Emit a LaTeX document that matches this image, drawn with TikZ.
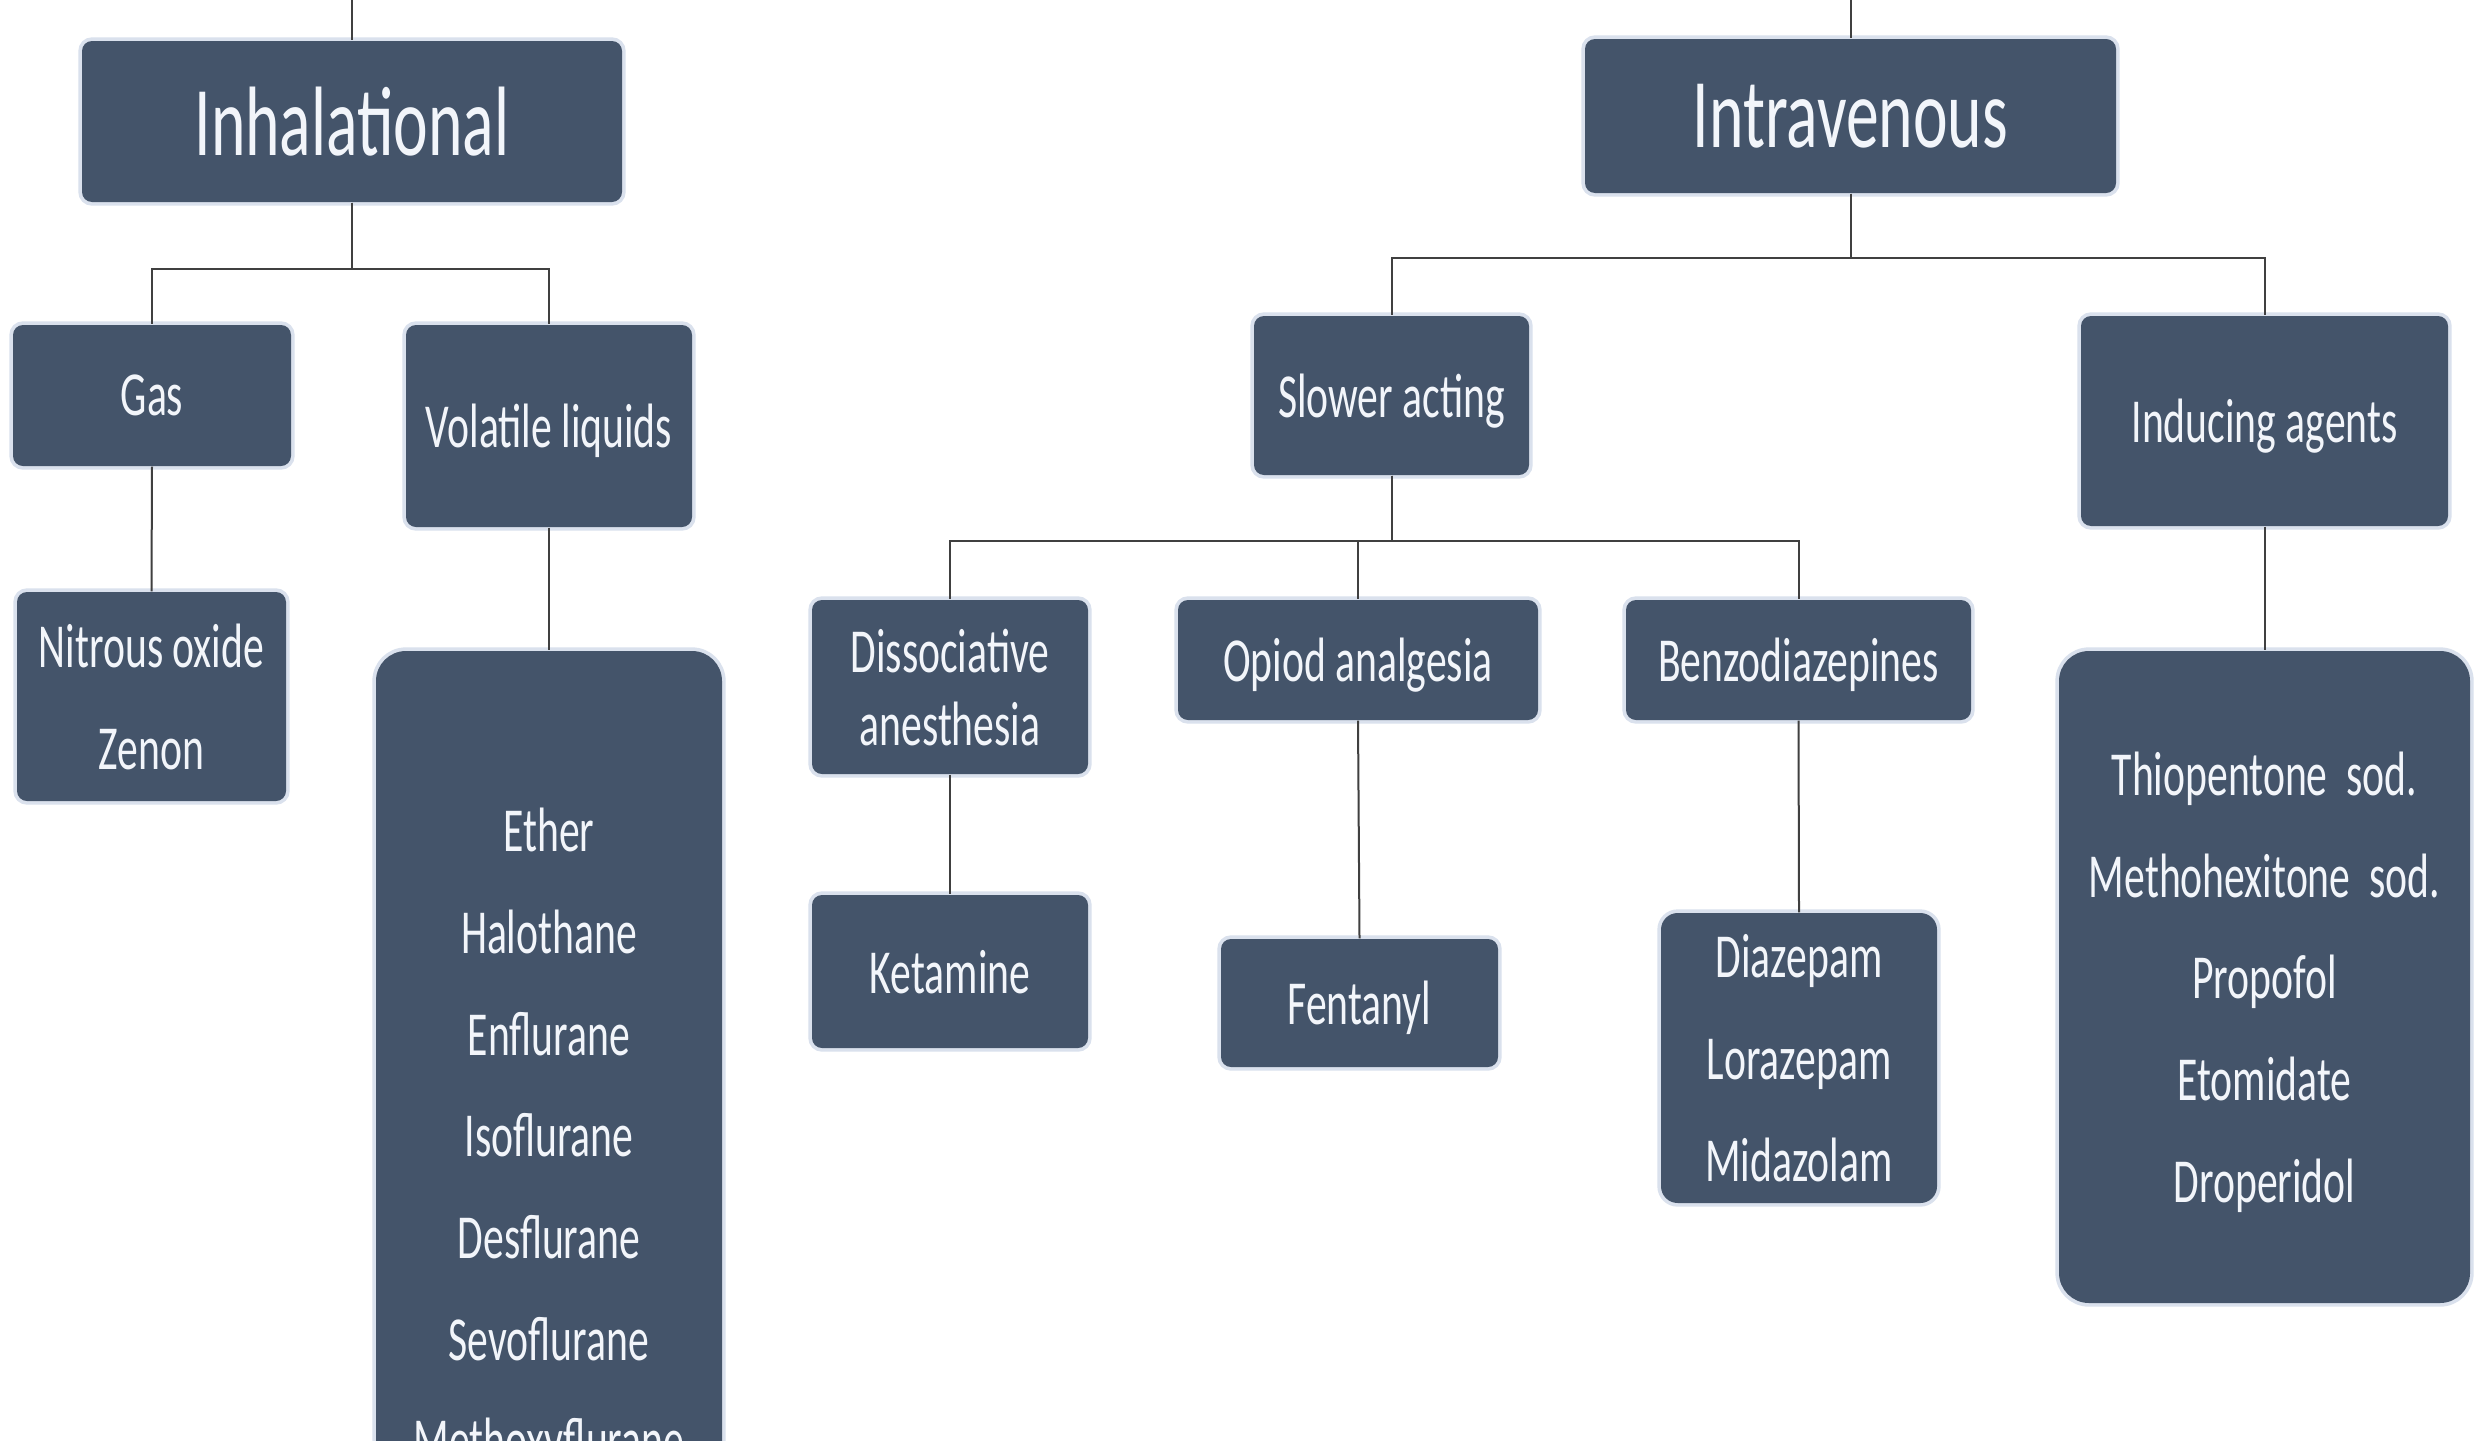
\documentclass[tikz,border=0pt]{standalone}
\usepackage{fontspec}
\setmainfont{Carlito}[FakeStretch=0.665]
\usetikzlibrary{arrows.meta, positioning}

\tikzset{
  box/.style={fill={rgb, 255:red, 68; green, 84; blue, 106 }, text={rgb, 255:red, 242; green, 245; blue, 250 }, rounded corners=3pt, inner sep=0pt, text depth=0pt, align=center, font=\fontsize{18.8}{30.5}\selectfont, preaction={draw={rgb, 255:red, 218; green, 225; blue, 237 }, line width=2.2pt}},
  bigbox/.style={box, font=\fontsize{29.6}{36}\selectfont},
  listbox/.style={box, rounded corners=9pt},
  link/.style={draw={rgb, 255:red, 64; green, 64; blue, 64 }, line width=0.6pt},
}

\begin{document}
\begin{tikzpicture}[x=0.3pt,y=0.3pt,yscale=-1,xscale=1]
%set diagram size to the reference
\useasboundingbox (0,0) rectangle (2476,1440);
\fill [white] (0,0) rectangle (2476,1440);
\clip (0,0) rectangle (2476,1440);

% Top level
\node (inh) at (352,121.5) [bigbox, minimum width=162pt, minimum height=48.3pt] {Inhalational};
\node (iv) at (1850.5,116) [bigbox, minimum width=159.3pt, minimum height=46.2pt] {Intravenous};
\coordinate (inhtop) at (352,-20);
\coordinate (ivtop) at (1850.5,-20);

% Inhalational side
\node (gas) at (152,395.5) [box, minimum width=83.4pt, minimum height=42.3pt] {Gas};
\node (vol) at (549,426) [box, minimum width=85.8pt, minimum height=60.6pt] {Volatile liquids};
\node (nit) at (151.5,696.5) [box, minimum width=80.7pt, minimum height=62.7pt] {Nitrous oxide\\Zenon};
\node (vlist) at (549,1135) [listbox, minimum width=103.8pt, minimum height=290.4pt] {Ether\\Halothane\\Enflurane\\Isoflurane\\Desflurane\\Sevoflurane\\Methoxyflurane};

% Intravenous side
\node (slow) at (1391.5,395.5) [box, minimum width=82.5pt, minimum height=47.7pt] {Slower acting};
\node (ind) at (2264.5,421) [box, minimum width=110.1pt, minimum height=63pt] {Inducing agents};
\node (ilist) at (2264.5,977) [listbox, minimum width=123.3pt, minimum height=195.6pt] {Thiopentone\ \ sod.\\Methohexitone\ \ sod.\\Propofol\\Etomidate\\Droperidol};

% Slower acting groups
\node (dis) at (950,687) [box, minimum width=82.8pt, minimum height=52.2pt, font=\fontsize{18.8}{21.9}\selectfont] {Dissociative\\anesthesia};
\node (opi) at (1358,660) [box, minimum width=108pt, minimum height=36pt] {Opiod analgesia};
\node (ben) at (1798.5,660) [box, minimum width=103.5pt, minimum height=36pt] {Benzodiazepines};
\node (ket) at (950,971.5) [box, minimum width=82.8pt, minimum height=45.9pt] {Ketamine};
\node (fen) at (1359.5,1003) [box, minimum width=83.1pt, minimum height=38.4pt] {Fentanyl};
\node (dia) at (1799,1058) [listbox, rounded corners=5pt, minimum width=82.8pt, minimum height=87pt] {Diazepam\\Lorazepam\\Midazolam};

%Straight Lines
\draw [link] (inhtop) -- (inh.north);
\draw [link] (ivtop) -- (iv.north);
\draw [link] (inh.south) -- ++(0,66) -| (gas.north);
\draw [link] (inh.south) -- ++(0,66) -| (vol.north);
\draw [link] (gas.south) -- (nit.north);
\draw [link] (vol.south) -- (vlist.north);
\draw [link] (iv.south) -- ++(0,64) -| (slow.north);
\draw [link] (iv.south) -- ++(0,64) -| (ind.north);
\draw [link] (ind.south) -- (ilist.north);
\draw [link] (slow.south) -- ++(0,65) -| (dis.north);
\draw [link] (slow.south) -- ++(0,65) -| (opi.north);
\draw [link] (slow.south) -- ++(0,65) -| (ben.north);
\draw [link] (dis.south) -- (ket.north);
\draw [link] (opi.south) -- (fen.north);
\draw [link] (ben.south) -- (dia.north);

\end{tikzpicture}
\end{document}
